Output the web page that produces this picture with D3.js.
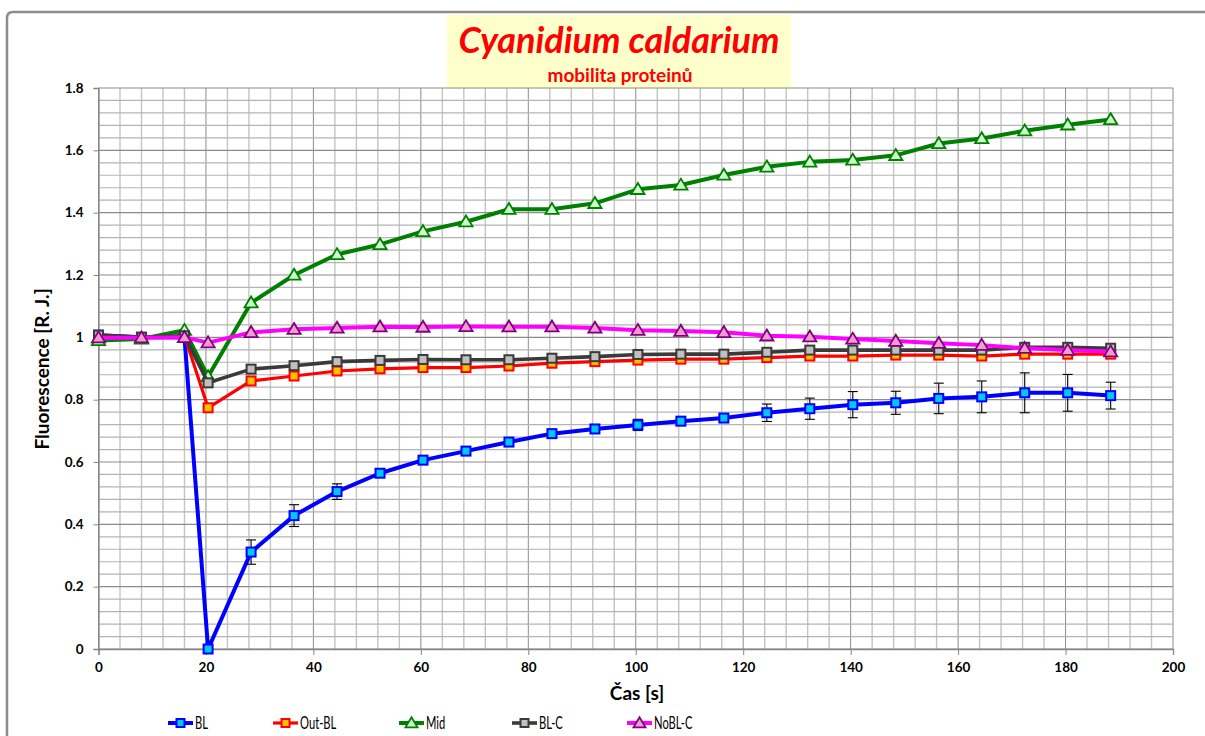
<!DOCTYPE html>
<html>
<head>
<meta charset="utf-8">
<script src="https://cdn.jsdelivr.net/npm/d3@7/dist/d3.min.js"></script>
<style>
    body { margin: 0; background: #fff; overflow: hidden; }
    svg { display: block; font-family: Lato, 'Open Sans', sans-serif; }
</style>
</head>
<body>
<svg id="chart" width="1205" height="736"></svg>
<script>
'use strict';

// time of each frame [s]
const time = [0, 8, 16, 20.4, 28.4, 36.4, 44.4, 52.4, 60.4, 68.4, 76.4, 84.4, 92.4,
    100.4, 108.4, 116.4, 124.4, 132.4, 140.4, 148.4, 156.4, 164.4, 172.4, 180.4, 188.4];

const bl = [1.007, 1.0, 1.0, 0.0, 0.311, 0.428, 0.505, 0.564, 0.606, 0.635, 0.664, 0.691, 0.706,
    0.719, 0.731, 0.741, 0.758, 0.771, 0.784, 0.790, 0.804, 0.809, 0.822, 0.822, 0.813];
const blErr = [0, 0, 0, 0, 0.039, 0.035, 0.025, 0.012, 0.006, 0.004, 0.004, 0.004, 0.005,
    0.018, 0.006, 0.008, 0.028, 0.034, 0.042, 0.037, 0.049, 0.051, 0.064, 0.059, 0.043];
const outBl = [1.0, 1.0, 1.005, 0.774, 0.860, 0.876, 0.892, 0.899, 0.903, 0.903, 0.908, 0.917, 0.922,
    0.927, 0.930, 0.930, 0.935, 0.940, 0.940, 0.943, 0.943, 0.940, 0.946, 0.946, 0.946];
const mid = [0.99, 0.995, 1.023, 0.874, 1.111, 1.20, 1.266, 1.298, 1.340, 1.371, 1.411, 1.411, 1.430,
    1.475, 1.489, 1.521, 1.547, 1.563, 1.569, 1.584, 1.622, 1.638, 1.663, 1.682, 1.699];
const blC = [1.007, 1.0, 1.005, 0.854, 0.898, 0.909, 0.922, 0.926, 0.929, 0.928, 0.928, 0.933, 0.938,
    0.945, 0.946, 0.946, 0.952, 0.959, 0.959, 0.959, 0.959, 0.959, 0.968, 0.968, 0.965];
const noBlC = [0.999, 0.999, 1.0, 0.983, 1.016, 1.026, 1.030, 1.034, 1.033, 1.035, 1.034, 1.034, 1.030,
    1.023, 1.020, 1.016, 1.005, 1.002, 0.995, 0.988, 0.981, 0.975, 0.965, 0.959, 0.954];

const seriesNames = ['BL', 'Out-BL', 'Mid', 'BL-C', 'NoBL-C'];
const xTicks = [0, 20, 40, 60, 80, 100, 120, 140, 160, 180, 200];
const yTicks = [0, 0.2, 0.4, 0.6, 0.8, 1, 1.2, 1.4, 1.6, 1.8];

class LineChart {
    constructor(el) {
        this.svg = d3.select(el);
        this.setUpEnvironment();
        this.drawFrame();
        this.drawGrid();
        this.drawSeries();
        this.drawLegend();
    }

    setUpEnvironment() {
        this.x = d3.scaleLinear().domain([0, 200]).range([98.5, 1173]);
        this.y = d3.scaleLinear().domain([0, 1.8]).range([649, 88]);

        this.series = [
            {name: seriesNames[0], values: bl, err: blErr, line: '#0000ff', fill: '#00c8f8', stroke: '#0000ff', shape: 'square', width: 4},
            {name: seriesNames[1], values: outBl, line: '#ff0000', fill: '#ffc000', stroke: '#ff0000', shape: 'square', width: 3.2},
            {name: seriesNames[2], values: mid, line: '#008000', fill: '#ccffcc', stroke: '#008000', shape: 'triangle', width: 4},
            {name: seriesNames[3], values: blC, line: '#3a3a3a', fill: '#c0c0c0', stroke: '#3a3a3a', shape: 'square', width: 3.6},
            {name: seriesNames[4], values: noBlC, line: '#ff00ff', fill: '#f49ad0', stroke: '#800080', shape: 'triangle', width: 4}
        ];
    }

    drawFrame() {
        // chart area border, only the left and top edges are in view
        this.svg.append('path')
            .attr('d', 'M7,740V18Q7,12 13,12H1210')
            .attr('fill', 'none')
            .attr('stroke', '#8c8c8c')
            .attr('stroke-width', 2.5);

        const t = this.svg.append('g');
        t.append('rect')
            .attr('x', 447).attr('y', 15)
            .attr('width', 344).attr('height', 74)
            .attr('fill', '#ffffcc');
        t.append('text')
            .attr('x', 619).attr('y', 53)
            .attr('text-anchor', 'middle')
            .attr('font-size', 36)
            .attr('font-weight', 'bold')
            .attr('font-style', 'italic')
            .attr('fill', '#ff0000')
            .text('Cyanidium caldarium');
        t.append('text')
            .attr('x', 620).attr('y', 82)
            .attr('text-anchor', 'middle')
            .attr('font-size', 19)
            .attr('font-weight', 'bold')
            .attr('fill', '#ff0000')
            .text('mobilita proteinů');
    }

    drawGrid() {
        const g = this.svg.append('g');
        const minorX = d3.range(0, 201, 4);
        const minorY = d3.range(0, 46).map(i => i * 0.04);

        g.selectAll('.vx')
            .data(minorX)
            .enter()
            .append('line')
            .attr('x1', d => this.x(d)).attr('x2', d => this.x(d))
            .attr('y1', this.y(1.8)).attr('y2', this.y(0))
            .attr('stroke', d => d % 20 === 0 ? '#8c8c8c' : '#c4c4c4')
            .attr('stroke-width', d => d % 20 === 0 ? 1 : 1.4);

        g.selectAll('.hy')
            .data(minorY)
            .enter()
            .append('line')
            .attr('x1', this.x(0)).attr('x2', this.x(200))
            .attr('y1', d => this.y(d)).attr('y2', d => this.y(d))
            .attr('stroke', (d, i) => i % 5 === 0 ? '#8c8c8c' : '#b4b4b4')
            .attr('stroke-width', 1.2);

        const xAxis = d3.axisBottom(this.x).tickValues(xTicks).tickSize(6).tickFormat(d3.format('d'));
        const yAxis = d3.axisLeft(this.y).tickValues(yTicks).tickSize(5).tickFormat(d => d3.format('')(+d.toFixed(1)));

        const gx = this.svg.append('g')
            .attr('transform', `translate(0,${this.y(0)})`)
            .call(xAxis);
        const gy = this.svg.append('g')
            .attr('transform', `translate(${this.x(0)},0)`)
            .call(yAxis);

        [gx, gy].forEach(a => {
            a.select('.domain').attr('stroke', '#868686').attr('stroke-width', 1.3);
            a.selectAll('.tick line').attr('stroke', '#868686');
            a.selectAll('text')
                .attr('font-family', 'Lato, sans-serif')
                .attr('font-size', 13.5)
                .attr('font-weight', 'bold')
                .attr('fill', '#000');
        });
        gx.selectAll('text').attr('dy', '1.05em');
        gy.selectAll('text').attr('x', -15);

        this.svg.append('text')
            .attr('transform', 'translate(49,369) rotate(-90)')
            .attr('text-anchor', 'middle')
            .attr('font-size', 19)
            .attr('font-weight', 'bold')
            .text('Fluorescence [R. J.]');

        this.svg.append('text')
            .attr('x', 637).attr('y', 700)
            .attr('text-anchor', 'middle')
            .attr('font-size', 19)
            .attr('font-weight', 'bold')
            .text('Čas [s]');
    }

    marker(sel, s, size) {
        if (s.shape === 'square') {
            sel.append('rect')
                .attr('x', -size / 2).attr('y', -size / 2)
                .attr('width', size).attr('height', size)
                .attr('fill', s.fill)
                .attr('stroke', s.stroke)
                .attr('stroke-width', 2);
        } else {
            const h = size * 0.95;
            sel.append('path')
                .attr('d', `M0,${-h * 0.6}L${size * 0.6},${h * 0.45}L${-size * 0.6},${h * 0.45}Z`)
                .attr('fill', s.fill)
                .attr('stroke', s.stroke)
                .attr('stroke-width', 1.8);
        }
    }

    drawSeries() {
        const that = this;
        const line = d3.line()
            .x((d, i) => this.x(time[i]))
            .y(d => this.y(d));

        this.series.forEach(s => {
            const g = this.svg.append('g');

            g.append('path')
                .datum(s.values)
                .attr('d', line)
                .attr('fill', 'none')
                .attr('stroke', s.line)
                .attr('stroke-width', s.width)
                .attr('stroke-linejoin', 'round');

            if (s.err) {
                const eb = g.selectAll('.err')
                    .data(s.values.map((v, i) => ({t: time[i], v: v, e: s.err[i]})).filter(d => d.e > 0))
                    .enter()
                    .append('g')
                    .attr('stroke', '#000')
                    .attr('stroke-width', 1.1);
                eb.append('line')
                    .attr('x1', d => this.x(d.t)).attr('x2', d => this.x(d.t))
                    .attr('y1', d => this.y(d.v - d.e)).attr('y2', d => this.y(d.v + d.e));
                eb.append('line')
                    .attr('x1', d => this.x(d.t) - 5).attr('x2', d => this.x(d.t) + 5)
                    .attr('y1', d => this.y(d.v + d.e)).attr('y2', d => this.y(d.v + d.e));
                eb.append('line')
                    .attr('x1', d => this.x(d.t) - 5).attr('x2', d => this.x(d.t) + 5)
                    .attr('y1', d => this.y(d.v - d.e)).attr('y2', d => this.y(d.v - d.e));
            }

            g.selectAll('.pt')
                .data(s.values)
                .enter()
                .append('g')
                .attr('transform', (d, i) => `translate(${this.x(time[i])},${this.y(d)})`)
                .each(function() {
                    that.marker(d3.select(this), s, s.shape === 'square' ? 9 : 11);
                });
        });
    }

    drawLegend() {
        const lx = [168, 273, 399, 512, 627];
        const ly = 723;

        const items = this.svg.append('g')
            .selectAll('.leg')
            .data(this.series)
            .enter()
            .append('g')
            .attr('transform', (d, i) => `translate(${lx[i]},${ly})`);

        items.append('line')
            .attr('x1', 0).attr('x2', 25)
            .attr('stroke', d => d.line)
            .attr('stroke-width', d => d.width);

        const that = this;
        items.append('g')
            .attr('transform', 'translate(12.5,0)')
            .each(function(d) {
                that.marker(d3.select(this), d, d.shape === 'square' ? 8 : 10);
            });

        // legend labels are squeezed like the narrow office font
        items.append('text')
            .attr('transform', 'translate(27,6) scale(0.68,1)')
            .attr('font-size', 16.5)
            .text(d => d.name);
    }
}

new LineChart('#chart');
</script>
</body>
</html>
